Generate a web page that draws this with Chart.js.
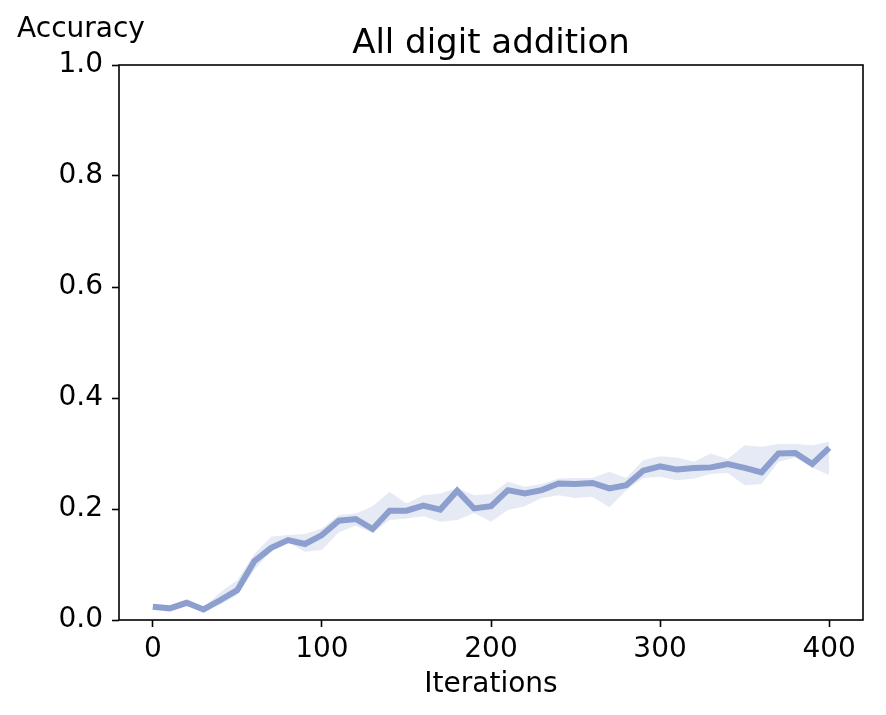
<!DOCTYPE html>
<html>
<head>
<meta charset="utf-8">
<script src="https://cdn.jsdelivr.net/npm/chart.js@4.4.0/dist/chart.umd.min.js"></script>
<style>
  html, body { margin: 0; padding: 0; background: #fff; }
  #wrap { width: 886px; height: 715px; }
</style>
</head>
<body>
<div id="wrap"><canvas id="c" width="886" height="715"></canvas></div>
<script>
"use strict";

var iterations = [0, 10, 20, 30, 40, 50, 60, 70, 80, 90, 100, 110, 120, 130, 140, 150, 160, 170, 180, 190,
  200, 210, 220, 230, 240, 250, 260, 270, 280, 290, 300, 310, 320, 330, 340, 350, 360, 370, 380, 390, 400];
var accMean = [0.024, 0.021, 0.031, 0.019, 0.036, 0.054, 0.106, 0.130, 0.144, 0.137, 0.153, 0.179, 0.182, 0.164, 0.197, 0.197, 0.206, 0.199, 0.233, 0.201,
  0.205, 0.234, 0.228, 0.234, 0.246, 0.245, 0.247, 0.237, 0.243, 0.269, 0.277, 0.271, 0.274, 0.275, 0.281, 0.274, 0.266, 0.300, 0.301, 0.281, 0.310];
var accUpper = [0.028, 0.025, 0.037, 0.023, 0.050, 0.072, 0.119, 0.150, 0.153, 0.155, 0.165, 0.189, 0.192, 0.205, 0.231, 0.210, 0.225, 0.228, 0.238, 0.225,
  0.227, 0.249, 0.240, 0.245, 0.255, 0.256, 0.256, 0.267, 0.256, 0.288, 0.295, 0.293, 0.285, 0.300, 0.290, 0.315, 0.312, 0.317, 0.317, 0.315, 0.321];
var accLower = [0.020, 0.017, 0.026, 0.015, 0.028, 0.045, 0.090, 0.125, 0.140, 0.123, 0.126, 0.158, 0.170, 0.157, 0.180, 0.183, 0.187, 0.177, 0.180, 0.193,
  0.177, 0.198, 0.205, 0.220, 0.225, 0.220, 0.222, 0.203, 0.234, 0.256, 0.258, 0.252, 0.255, 0.263, 0.265, 0.243, 0.245, 0.285, 0.293, 0.275, 0.261];
var xTicks = [0, 100, 200, 300, 400];
var yTicks = [0, 0.2, 0.4, 0.6, 0.8, 1.0];

function pts(vals) {
  return vals.map(function(v, i) { return { x: iterations[i], y: v }; });
}

var fontFamily = "'DejaVu Sans', sans-serif";

var decor = {
  id: "decor",
  afterDraw: function(chart) {
    var ctx = chart.ctx, a = chart.chartArea;
    ctx.save();
    ctx.strokeStyle = "#000";
    ctx.lineWidth = 1.6;
    ctx.strokeRect(a.left, a.top, a.right - a.left, a.bottom - a.top);
    ctx.fillStyle = "#000";
    ctx.textAlign = "center";
    ctx.textBaseline = "alphabetic";
    ctx.font = "34px " + fontFamily;
    ctx.fillText("All digit addition", (a.left + a.right) / 2, 53);
    ctx.font = "28px " + fontFamily;
    ctx.fillText("Accuracy", 81, 37);
    ctx.fillText("Iterations", (a.left + a.right) / 2, 692);
    ctx.restore();
  }
};

new Chart(document.getElementById("c"), {
  type: "line",
  data: {
    datasets: [{
      label: "lower",
      data: pts(accLower),
      borderWidth: 0,
      pointRadius: 0,
      fill: false,
      tension: 0
    }, {
      label: "upper",
      data: pts(accUpper),
      borderWidth: 0,
      pointRadius: 0,
      backgroundColor: "rgba(141,160,203,0.22)",
      fill: "-1",
      tension: 0
    }, {
      label: "mean",
      data: pts(accMean),
      borderColor: "#8c9fcf",
      borderWidth: 6,
      pointRadius: 0,
      fill: false,
      tension: 0,
      borderJoinStyle: "miter"
    }]
  },
  options: {
    responsive: false,
    animation: false,
    events: [],
    layout: { padding: { left: 0, right: 23, top: 65, bottom: 0 } },
    plugins: { legend: { display: false }, tooltip: { enabled: false } },
    scales: {
      x: {
        type: "linear",
        min: -20,
        max: 420,
        afterBuildTicks: function(s) { s.ticks = xTicks.map(function(v) { return { value: v }; }); },
        afterFit: function(s) { s.height = 95; },
        grid: { drawOnChartArea: false, drawTicks: true, tickLength: 7, tickColor: "#000", tickWidth: 1.6 },
        border: { display: false },
        ticks: { color: "#000", font: { family: fontFamily, size: 28 }, padding: 6, maxRotation: 0 }
      },
      y: {
        min: 0,
        max: 1,
        afterBuildTicks: function(s) { s.ticks = yTicks.map(function(v) { return { value: v }; }); },
        afterFit: function(s) { s.width = 119; },
        grid: { drawOnChartArea: false, drawTicks: true, tickLength: 7, tickColor: "#000", tickWidth: 1.6 },
        border: { display: false },
        ticks: {
          color: "#000", font: { family: fontFamily, size: 28 }, padding: 9,
          callback: function(v) { return v.toFixed(1); }
        }
      }
    }
  },
  plugins: [decor]
});
</script>
</body>
</html>
